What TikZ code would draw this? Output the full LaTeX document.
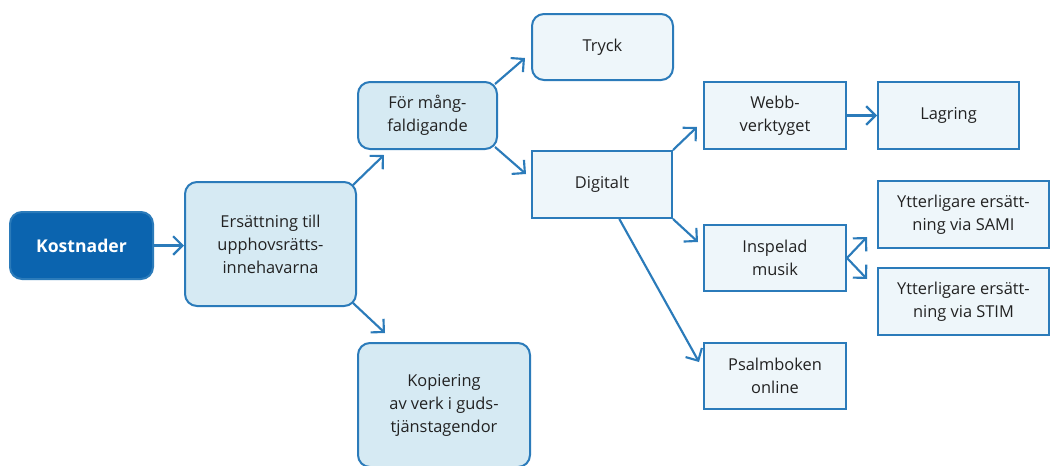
\documentclass[tikz,border=0pt]{standalone}
\usepackage{fontspec}
\setmainfont{Open Sans}
\usetikzlibrary{arrows.meta}
\definecolor{bl}{HTML}{2B7BBA}
\definecolor{dk}{HTML}{0B64AF}
\definecolor{lf}{HTML}{D6EAF3}
\definecolor{vf}{HTML}{EEF6FA}
\definecolor{tx}{HTML}{222222}
\begin{document}
\begin{tikzpicture}[x=0.75pt,y=-0.75pt,
  box/.style={draw=bl,line width=1.5pt,align=center,text=tx,inner sep=0pt,
    font=\fontsize{12.3}{17.25}\selectfont},
  rbox/.style={box,rounded corners=9pt},
  sbox/.style={box,fill=vf},
  arr/.style={draw=bl,line width=1.6pt,-{Straight Barb[length=7pt,width=14pt,line width=1.6pt]}}]
\clip (0,0) rectangle (1051,465);
\fill[white] (0,0) rectangle (1051,465);
\node[rbox,fill=dk,text=white,font=\fontsize{13.2}{17.25}\selectfont\bfseries,
  minimum width=107.25pt,minimum height=50.25pt] (kost) at (81.5,245.5) {Kostnader};
\node[rbox,fill=lf,minimum width=128.25pt,minimum height=93pt] (ers) at (270.5,244)
  {Ersättning till\\upphovsrätts-\\innehavarna};
\node[rbox,fill=lf,minimum width=104.25pt,minimum height=50.25pt] (for) at (427.5,115.5)
  {För mång-\\faldigande};
\node[rbox,fill=vf,minimum width=105.75pt,minimum height=49.5pt] (tryck) at (602.5,47) {Tryck};
\node[rbox,fill=lf,minimum width=129pt,minimum height=93pt] (kop) at (444,405)
  {Kopiering\\av verk i guds-\\tjänstagendor};
\node[sbox,minimum width=105pt,minimum height=50.25pt] (dig) at (602,184.5) {Digitalt};
\node[sbox,minimum width=106.5pt,minimum height=50.25pt] (webb) at (775,115.5) {Webb-\\verktyget};
\node[sbox,minimum width=105.75pt,minimum height=50.25pt] (lag) at (948.5,115.5) {Lagring};
\node[sbox,minimum width=106.5pt,minimum height=49.5pt] (insp) at (775,258) {Inspelad\\musik};
\node[sbox,minimum width=128.25pt,minimum height=50.25pt] (sami) at (963.5,214.5)
  {Ytterligare ersätt-\\ning via SAMI};
\node[sbox,minimum width=128.25pt,minimum height=50.25pt] (stim) at (963.5,301.5)
  {Ytterligare ersätt-\\ning via STIM};
\node[sbox,minimum width=106.5pt,minimum height=49.5pt] (psalm) at (775,376) {Psalmboken\\online};
% connectors
\coordinate (e1) at (184,245.5);
\coordinate (e2) at (384,155);
\coordinate (e3) at (385,333);
\coordinate (e4) at (525,58);
\coordinate (e5) at (526,174);
\coordinate (e6) at (697,127);
\coordinate (e7) at (698,242);
\coordinate (e8) at (699,362);
\coordinate (e9) at (877,115.5);
\coordinate (e10) at (867,237);
\coordinate (e11) at (867,279);
\draw[arr] (kost.east) -- (e1);
\draw[arr] ([shift={(-4,4)}]ers.north east) -- (e2);
\draw[arr] ([shift={(-4,-4)}]ers.south east) -- (e3);
\draw[arr] ([shift={(-3,3)}]for.north east) -- (e4);
\draw[arr] ([shift={(-3,-3)}]for.south east) -- (e5);
\draw[arr] (dig.north east) -- (e6);
\draw[arr] (dig.south east) -- (e7);
\draw[arr] ([xshift=13pt]dig.south) -- (e8);
\draw[arr] (webb.east) -- (e9);
\draw[arr] (insp.east) -- (e10);
\draw[arr] (insp.east) -- (e11);
\end{tikzpicture}
\end{document}
